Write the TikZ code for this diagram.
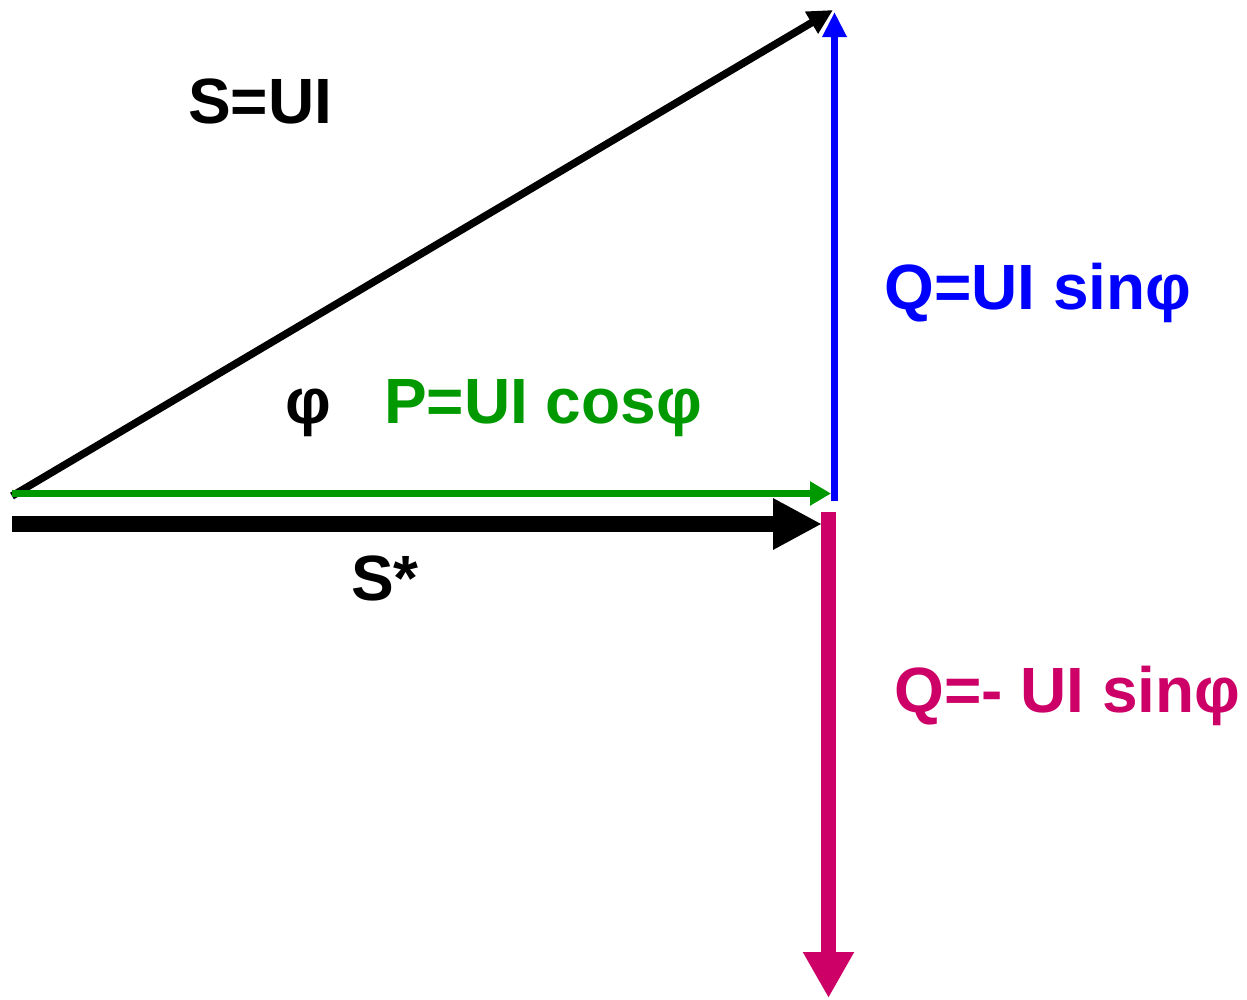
\documentclass[tikz,border=0pt]{standalone}
\usepackage{fontspec}
\setmainfont{Liberation Sans}
\usepackage{tikz}
\usetikzlibrary{arrows.meta}
\definecolor{pgreen}{HTML}{009900}
\definecolor{qblue}{HTML}{0000FF}
\definecolor{qmag}{HTML}{CC0066}
\begin{document}
\begin{tikzpicture}[x=1pt,y=-1pt,>=Triangle,
  lbl/.style={anchor=base west,inner sep=0pt,font=\fontsize{64}{72}\selectfont\bfseries},
  vec/.style={line width=#1}]
\useasboundingbox (0,0) rectangle (1247,999);
% corner points of the triangle
\coordinate (o) at (12,496);
\coordinate (stip) at (833,10);
\coordinate (qbot) at (834.5,501);
\coordinate (qtip) at (834.5,12);
\coordinate (po) at (12,493.5);
\coordinate (ptip) at (831,493.5);
\coordinate (so) at (12,524);
\coordinate (stiptwo) at (822,524);
\coordinate (mtop) at (828.5,512);
\coordinate (mtip) at (828.5,998);
% vectors
\draw[vec=7.5,-{Triangle[length=25pt,width=24pt]}] (o)--(stip);
\draw[vec=7,qblue,-{Triangle[length=25pt,width=23pt]}] (qbot)--(qtip);
\draw[vec=7,pgreen,-{Triangle[length=21pt,width=23pt]}] (po)--(ptip);
\draw[vec=16,-{Triangle[length=49pt,width=48pt]}] (so)--(stiptwo);
\draw[vec=15,qmag,-{Triangle[length=46pt,width=48pt]}] (mtop)--(mtip);
% labels
\node[lbl] (s) at (188,123) {S=UI};
\node[lbl,qblue] (q) at (884,309) {Q=UI sinφ};
\node[lbl] (phi) at (285,423) {φ};
\node[lbl,pgreen] (p) at (384,423) {P=UI cosφ};
\node[lbl] (sstar) at (351,600) {S*};
\node[lbl,qmag] (qneg) at (894,712) {Q=- UI sinφ};
\end{tikzpicture}
\end{document}
